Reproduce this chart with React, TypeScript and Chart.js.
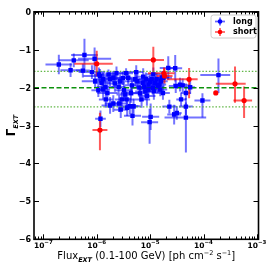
import React, { useEffect, useRef } from 'react';
import { Chart, registerables } from 'chart.js';
Chart.register(...registerables);

// ---- axis ranges / ticks ----
const X_MIN_EXP = -7.175;
const X_MAX_EXP = -2.97;
const xTickExponents = [-7, -6, -5, -4, -3];
const yTicks = [0, -1, -2, -3, -4, -5, -6];
const refLevels = [-1.57, -2.0, -2.51];

// ---- long GRBs (blue): log10 flux, photon index, errors (dex / index units) ----
const longLogFlux = [
  -6.71, -6.49, -6.43, -6.23, -6.26, -6.04, -5.93, -5.97, -5.94, -6.09,
  -5.91, -5.88, -5.83, -5.80, -5.84, -5.75, -5.78, -5.69, -5.63, -5.66,
  -5.59, -5.56, -5.58, -5.53, -5.51, -5.49, -5.47, -5.44, -5.41, -5.38,
  -5.36, -5.33, -5.34, -5.28, -5.26, -5.24, -5.20, -5.19, -5.16, -5.14,
  -5.13, -5.11, -5.09, -5.08, -5.06, -5.03, -5.03, -5.01, -4.99, -5.00,
  -4.97, -4.95, -4.93, -4.91, -4.88, -4.86, -4.83, -4.81, -4.78, -4.80,
  -4.76, -4.66, -4.53, -4.52, -4.44, -4.39, -4.25, -4.33, -4.42, -4.33,
  -4.33, -4.64, -4.55, -4.50, -4.02, -3.72, -5.69, -5.75, -5.55, -5.43,
  -5.31, -6.03, -5.96, -5.88, -5.45, -4.94, -4.75,
];
const longGamma = [
  -1.39, -1.54, -1.28, -1.14, -1.55, -1.24, -2.82, -2.07, -1.69, -1.59,
  -1.87, -1.78, -2.31, -2.14, -1.98, -1.78, -1.65, -1.74, -1.62, -1.89,
  -1.98, -1.83, -2.42, -2.31, -1.75, -2.07, -2.18, -2.31, -1.74, -2.49,
  -2.14, -2.74, -1.94, -1.78, -1.59, -1.83, -2.00, -2.15, -2.31, -1.87,
  -1.71, -1.98, -2.10, -1.78, -2.22, -1.92, -2.05, -2.91, -2.77, -1.85,
  -1.78, -2.01, -2.10, -1.87, -1.78, -1.96, -1.92, -2.05, -1.74, -1.83,
  -2.14, -1.48, -1.49, -1.96, -1.92, -1.94, -1.99, -2.14, -2.31, -2.50,
  -2.79, -2.50, -2.71, -2.67, -2.34, -1.67, -2.42, -2.47, -2.58, -2.53,
  -2.49, -1.83, -1.65, -2.05, -1.62, -1.65, -1.74,
];
const longFluxErrLo = [
  0.25, 0.19, 0.28, 0.25, 0.13, 0.31, 0.10, 0.13, 0.31, 0.25,
  0.16, 0.19, 0.13, 0.19, 0.16, 0.19, 0.13, 0.19, 0.13, 0.16,
  0.13, 0.16, 0.13, 0.13, 0.16, 0.16, 0.16, 0.13, 0.13, 0.16,
  0.19, 0.16, 0.13, 0.13, 0.13, 0.19, 0.16, 0.16, 0.16, 0.13,
  0.13, 0.16, 0.19, 0.13, 0.16, 0.13, 0.16, 0.16, 0.16, 0.13,
  0.13, 0.13, 0.16, 0.13, 0.16, 0.13, 0.13, 0.13, 0.13, 0.13,
  0.13, 0.16, 0.13, 0.13, 0.13, 0.13, 0.09, 0.09, 0.09, 0.13,
  0.40, 0.13, 0.13, 0.09, 0.15, 0.34, 0.16, 0.16, 0.13, 0.16,
  0.13, 0.25, 0.09, 0.13, 0.13, 0.13, 0.16,
];
const longFluxErrHi = [
  0.25, 0.19, 0.28, 0.25, 0.13, 0.31, 0.10, 0.13, 0.31, 0.25,
  0.16, 0.19, 0.13, 0.19, 0.16, 0.19, 0.13, 0.19, 0.13, 0.16,
  0.13, 0.16, 0.13, 0.13, 0.16, 0.16, 0.16, 0.13, 0.13, 0.16,
  0.19, 0.16, 0.13, 0.13, 0.13, 0.19, 0.16, 0.16, 0.16, 0.13,
  0.13, 0.16, 0.19, 0.13, 0.16, 0.13, 0.16, 0.16, 0.16, 0.13,
  0.13, 0.13, 0.16, 0.13, 0.16, 0.13, 0.13, 0.13, 0.13, 0.13,
  0.13, 0.16, 0.13, 0.13, 0.13, 0.13, 0.09, 0.09, 0.09, 0.13,
  0.38, 0.13, 0.13, 0.09, 0.15, 0.22, 0.16, 0.16, 0.13, 0.16,
  0.13, 0.25, 0.09, 0.13, 0.13, 0.13, 0.16,
];
const longGammaErrLo = [
  0.26, 0.18, 0.18, 0.42, 0.18, 0.30, 0.22, 0.18, 0.18, 0.18,
  0.22, 0.18, 0.22, 0.22, 0.18, 0.18, 0.13, 0.18, 0.18, 0.22,
  0.18, 0.18, 0.22, 0.18, 0.18, 0.22, 0.18, 0.22, 0.18, 0.22,
  0.26, 0.26, 0.18, 0.18, 0.18, 0.22, 0.18, 0.22, 0.22, 0.18,
  0.22, 0.18, 0.22, 0.18, 0.26, 0.18, 0.22, 0.57, 0.35, 0.18,
  0.18, 0.18, 0.22, 0.18, 0.18, 0.18, 0.18, 0.18, 0.18, 0.18,
  0.18, 0.31, 0.35, 0.18, 0.18, 0.18, 0.18, 0.18, 0.18, 0.22,
  0.92, 0.18, 0.26, 0.18, 0.45, 0.47, 0.22, 0.22, 0.22, 0.22,
  0.18, 0.18, 0.18, 0.26, 0.13, 0.18, 0.18,
];
const longGammaErrHi = [
  0.26, 0.18, 0.18, 0.43, 0.18, 0.30, 0.22, 0.18, 0.18, 0.18,
  0.22, 0.18, 0.22, 0.22, 0.18, 0.18, 0.13, 0.18, 0.18, 0.22,
  0.18, 0.18, 0.22, 0.18, 0.18, 0.22, 0.18, 0.22, 0.18, 0.22,
  0.26, 0.26, 0.18, 0.18, 0.18, 0.22, 0.18, 0.22, 0.22, 0.18,
  0.22, 0.18, 0.22, 0.18, 0.26, 0.18, 0.22, 0.35, 0.35, 0.18,
  0.18, 0.18, 0.22, 0.18, 0.18, 0.18, 0.18, 0.18, 0.18, 0.18,
  0.18, 0.31, 0.35, 0.18, 0.18, 0.18, 0.18, 0.18, 0.18, 0.22,
  0.40, 0.18, 0.26, 0.18, 0.19, 0.44, 0.22, 0.22, 0.22, 0.22,
  0.18, 0.18, 0.18, 0.26, 0.13, 0.18, 0.18,
];

// ---- short GRBs (red) ----
const shortLogFlux = [-6.00, -5.94, -4.94, -4.74, -4.73, -4.27, -3.77, -3.41, -3.24];
const shortGamma = [-1.37, -3.12, -1.27, -1.62, -1.69, -1.78, -2.14, -1.90, -2.34];
const shortFluxErrLo = [0.42, 0.14, 0.47, 0.30, 0.15, 0.42, 0.03, 0.36, 0.20];
const shortFluxErrHi = [0.30, 0.14, 0.20, 0.20, 0.15, 0.16, 0.03, 0.20, 0.15];
const shortGammaErrLo = [0.33, 0.53, 0.42, 0.15, 0.20, 0.50, 0.05, 0.50, 0.46];
const shortGammaErrHi = [0.34, 0.46, 0.35, 0.15, 0.20, 0.30, 0.05, 0.46, 0.37];

const FONT = '"DejaVu Sans", sans-serif';

function buildPoints(lf: number[], g: number[]) {
  return lf.map((v, i) => ({ x: Math.pow(10, v), y: g[i] }));
}
function buildErrors(lo: number[], hi: number[], glo: number[], ghi: number[]) {
  return lo.map((v, i) => ({ xlo: v, xhi: hi[i], ylo: glo[i], yhi: ghi[i] }));
}

const errorBarPlugin = {
  id: 'errorBars',
  beforeDatasetsDraw(chart: any) {
    const { ctx, chartArea, scales } = chart;
    const xs = scales.x, ys = scales.y;
    ctx.save();
    ctx.beginPath();
    ctx.rect(chartArea.left, chartArea.top, chartArea.right - chartArea.left, chartArea.bottom - chartArea.top);
    ctx.clip();
    chart.data.datasets.forEach((ds: any) => {
      if (!ds.errorBars) return;
      ctx.strokeStyle = ds.errorColor;
      ctx.lineWidth = 2;
      ds.errorBars.forEach((e: any, i: number) => {
        const p = ds.data[i];
        const px = xs.getPixelForValue(p.x);
        const py = ys.getPixelForValue(p.y);
        const xl = xs.getPixelForValue(p.x / Math.pow(10, e.xlo));
        const xh = xs.getPixelForValue(p.x * Math.pow(10, e.xhi));
        const yl = ys.getPixelForValue(p.y - e.ylo);
        const yh = ys.getPixelForValue(p.y + e.yhi);
        ctx.beginPath(); ctx.moveTo(xl, py); ctx.lineTo(xh, py); ctx.stroke();
        ctx.beginPath(); ctx.moveTo(px, yl); ctx.lineTo(px, yh); ctx.stroke();
      });
    });
    ctx.restore();
  },
};

function drawRich(ctx: CanvasRenderingContext2D, parts: any[], x: number, y: number, measureOnly = false) {
  let cx = x;
  for (const p of parts) {
    ctx.font = p.font;
    if (!measureOnly) ctx.fillText(p.t, cx, y + (p.dy || 0));
    cx += ctx.measureText(p.t).width;
  }
  return cx - x;
}

const axesPlugin = {
  id: 'mplAxes',
  afterDraw(chart: any) {
    const { ctx, chartArea } = chart;
    const xs = chart.scales.x, ys = chart.scales.y;
    const { left, right, top, bottom } = chartArea;
    ctx.save();
    ctx.fillStyle = '#000';
    ctx.strokeStyle = '#000';
    // y ticks
    ctx.lineWidth = 1;
    ctx.font = `bold 8px ${FONT}`;
    ctx.textAlign = 'right';
    ctx.textBaseline = 'middle';
    yTicks.forEach((v) => {
      const py = Math.round(ys.getPixelForValue(v)) + 0.5;
      ctx.beginPath(); ctx.moveTo(left, py); ctx.lineTo(left + 5, py); ctx.stroke();
      ctx.beginPath(); ctx.moveTo(right, py); ctx.lineTo(right - 5, py); ctx.stroke();
      ctx.fillText(v === 0 ? '0' : '\u2212' + Math.abs(v), left - 3, py);
    });
    // x ticks (major and minor)
    for (let e = -8; e <= -2; e++) {
      for (let k = 1; k <= 9; k++) {
        const val = k * Math.pow(10, e);
        const lg = Math.log10(val);
        if (lg < X_MIN_EXP || lg > X_MAX_EXP) continue;
        const px = Math.round(xs.getPixelForValue(val)) + 0.5;
        const len = k === 1 ? 5 : 2.8;
        ctx.beginPath(); ctx.moveTo(px, bottom); ctx.lineTo(px, bottom - len); ctx.stroke();
        ctx.beginPath(); ctx.moveTo(px, top); ctx.lineTo(px, top + len); ctx.stroke();
      }
    }
    // x tick labels
    ctx.textAlign = 'left';
    ctx.textBaseline = 'alphabetic';
    xTickExponents.forEach((ex) => {
      const px = xs.getPixelForValue(Math.pow(10, ex));
      const parts = [
        { t: '10', font: `bold 7.5px ${FONT}` },
        { t: '\u2212' + Math.abs(ex), font: `bold 5.5px ${FONT}`, dy: -3.5 },
      ];
      const w = drawRich(ctx, parts, 0, 0, true);
      drawRich(ctx, parts, px - w / 2, bottom + 8.5);
    });
    // frame
    ctx.lineWidth = 1.6;
    ctx.strokeRect(left, top, right - left, bottom - top);
    // x title
    const xt = [
      { t: 'Flux', font: `10px ${FONT}` },
      { t: 'EXT', font: `italic bold 6.5px ${FONT}`, dy: 2.5 },
      { t: ' (0.1-100 GeV) [ph cm', font: `10px ${FONT}` },
      { t: '\u22122', font: `6.5px ${FONT}`, dy: -4 },
      { t: ' s', font: `10px ${FONT}` },
      { t: '\u22121', font: `6.5px ${FONT}`, dy: -4 },
      { t: ']', font: `10px ${FONT}` },
    ];
    const xtw = drawRich(ctx, xt, 0, 0, true);
    drawRich(ctx, xt, (left + right) / 2 - xtw / 2, 259);
    // y title
    ctx.save();
    ctx.translate(15, (top + bottom) / 2);
    ctx.rotate(-Math.PI / 2);
    const yt = [
      { t: '\u0393', font: `bold 12px ${FONT}` },
      { t: 'EXT', font: `italic bold 6.5px ${FONT}`, dy: 2.5 },
    ];
    const ytw = drawRich(ctx, yt, 0, 0, true);
    drawRich(ctx, yt, -ytw / 2, 0);
    ctx.restore();
    // legend
    const bx = 211, by = 15, bw = 45, bh = 23;
    ctx.beginPath();
    const r = 2.5;
    ctx.moveTo(bx + r, by);
    ctx.arcTo(bx + bw, by, bx + bw, by + bh, r);
    ctx.arcTo(bx + bw, by + bh, bx, by + bh, r);
    ctx.arcTo(bx, by + bh, bx, by, r);
    ctx.arcTo(bx, by, bx + bw, by, r);
    ctx.closePath();
    ctx.fillStyle = 'rgba(255,255,255,0.85)';
    ctx.fill();
    ctx.strokeStyle = '#cccccc';
    ctx.lineWidth = 1;
    ctx.stroke();
    const entries = [
      { label: 'long', color: 'blue', bar: 'rgba(0,0,255,0.6)', y: by + 6.5 },
      { label: 'short', color: 'red', bar: 'rgba(255,0,0,0.6)', y: by + 17 },
    ];
    entries.forEach((en) => {
      const mx = bx + 9;
      ctx.strokeStyle = en.bar;
      ctx.lineWidth = 1.8;
      ctx.beginPath(); ctx.moveTo(mx - 5, en.y); ctx.lineTo(mx + 5, en.y); ctx.stroke();
      ctx.beginPath(); ctx.moveTo(mx, en.y - 4); ctx.lineTo(mx, en.y + 4); ctx.stroke();
      ctx.fillStyle = en.color;
      ctx.beginPath(); ctx.arc(mx, en.y, 2.3, 0, Math.PI * 2); ctx.fill();
      ctx.fillStyle = '#000';
      ctx.font = `bold 8px ${FONT}`;
      ctx.textAlign = 'left';
      ctx.textBaseline = 'middle';
      ctx.fillText(en.label, bx + 22, en.y);
    });
    ctx.restore();
  },
};

export default function App() {
  const ref = useRef<HTMLCanvasElement | null>(null);
  useEffect(() => {
    if (!ref.current) return;
    const xMin = Math.pow(10, X_MIN_EXP);
    const xMax = Math.pow(10, X_MAX_EXP);
    const refStyles = [
      { dash: [1.5, 1.8], color: 'rgba(70,170,40,0.85)', width: 1.3 },
      { dash: [5, 2.5], color: 'rgba(0,140,0,0.95)', width: 1.5 },
      { dash: [1.5, 1.8], color: 'rgba(70,170,40,0.85)', width: 1.3 },
    ];
    const refDatasets = refLevels.map((lv, i) => ({
      type: 'line' as const,
      label: 'ref' + i,
      data: [{ x: xMin, y: lv }, { x: xMax, y: lv }],
      borderColor: refStyles[i].color,
      borderWidth: refStyles[i].width,
      borderDash: refStyles[i].dash,
      pointRadius: 0,
      fill: false,
      order: 3,
    }));
    const chart = new Chart(ref.current, {
      type: 'scatter',
      data: {
        datasets: [
          ...refDatasets,
          {
            label: 'long',
            data: buildPoints(longLogFlux, longGamma),
            errorBars: buildErrors(longFluxErrLo, longFluxErrHi, longGammaErrLo, longGammaErrHi),
            errorColor: 'rgba(0,0,255,0.55)',
            backgroundColor: 'blue',
            borderColor: 'blue',
            borderWidth: 0,
            pointStyle: 'rect',
            pointRadius: 3.1,
            order: 2,
          } as any,
          {
            label: 'short',
            data: buildPoints(shortLogFlux, shortGamma),
            errorBars: buildErrors(shortFluxErrLo, shortFluxErrHi, shortGammaErrLo, shortGammaErrHi),
            errorColor: 'rgba(255,0,0,0.65)',
            backgroundColor: 'red',
            borderColor: 'red',
            borderWidth: 0,
            pointStyle: 'circle',
            pointRadius: 2.6,
            order: 1,
          } as any,
        ],
      },
      options: {
        responsive: false,
        animation: false,
        events: [],
        layout: { padding: { left: 34, right: 10.5, top: 11.8, bottom: 29.7 } },
        plugins: { legend: { display: false }, tooltip: { enabled: false } },
        scales: {
          x: { type: 'logarithmic', min: xMin, max: xMax, display: false },
          y: { type: 'linear', min: -6, max: 0, display: false },
        },
      },
      plugins: [errorBarPlugin, axesPlugin],
    });
    return () => chart.destroy();
  }, []);
  return (
    <div style={{ position: 'fixed', left: 0, top: 0, width: 269, height: 269, background: '#fff' }}>
      <canvas ref={ref} width={269} height={269} style={{ width: 269, height: 269 }} />
    </div>
  );
}
